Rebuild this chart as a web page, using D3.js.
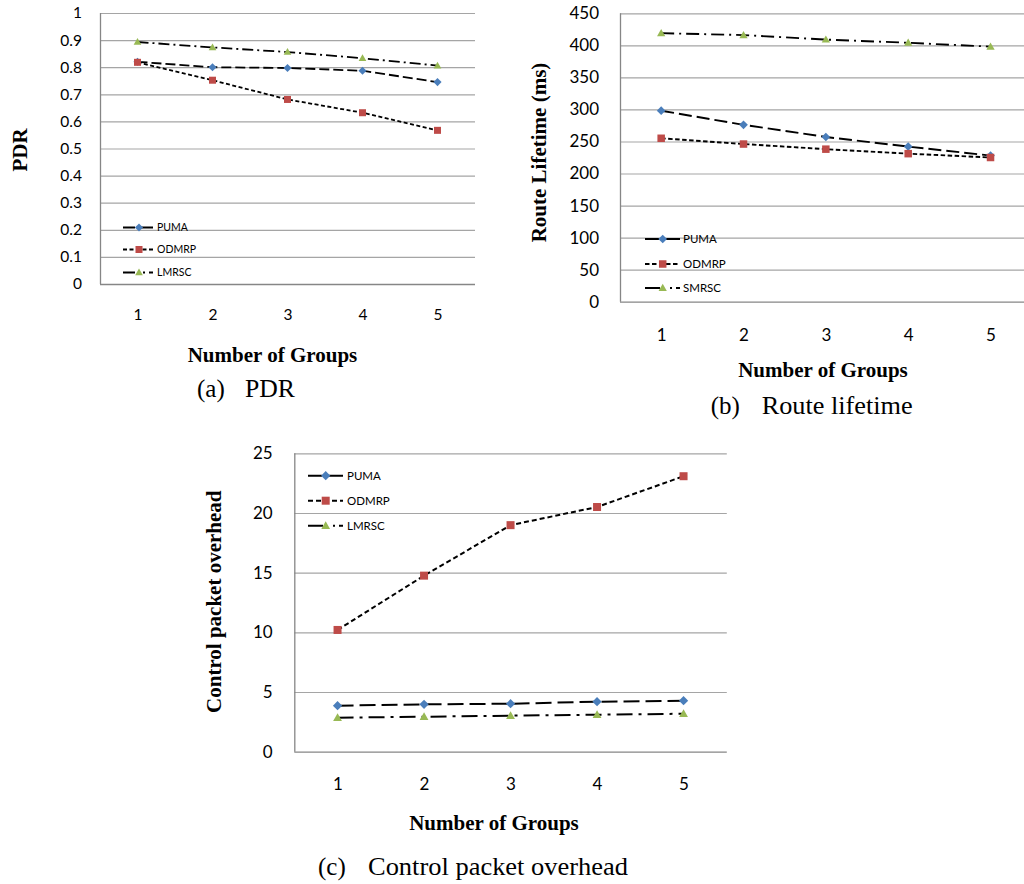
<!DOCTYPE html>
<html>
<head>
<meta charset="utf-8">
<script src="https://cdn.jsdelivr.net/npm/d3@7"></script>
<style>
  html, body { margin: 0; padding: 0; background: #fff; }
  svg { display: block; }
  .tick-label { font-family: Lato, "Open Sans", sans-serif; fill: #000; }
  .serif { font-family: "Liberation Serif", "DejaVu Serif", serif; fill: #000; }
</style>
</head>
<body>
<svg id="chart" width="1024" height="884"></svg>
<script>
// ---------- data ----------
const groups = [1, 2, 3, 4, 5];
const seriesNames = ["PUMA", "ODMRP", "LMRSC"];
const seriesNamesB = ["PUMA", "ODMRP", "SMRSC"];

const pdrPUMA  = [0.820, 0.800, 0.797, 0.787, 0.745];
const pdrODMRP = [0.818, 0.752, 0.681, 0.632, 0.567];
const pdrLMRSC = [0.893, 0.873, 0.856, 0.833, 0.806];
const pdrTicks = [0, 0.1, 0.2, 0.3, 0.4, 0.5, 0.6, 0.7, 0.8, 0.9, 1];

const lifePUMA  = [298, 276, 257, 242, 228];
const lifeODMRP = [255, 246, 238, 231, 225];
const lifeSMRSC = [419, 416, 409, 404, 398];
const lifeTicks = [0, 50, 100, 150, 200, 250, 300, 350, 400, 450];

const ovhPUMA  = [3.86, 3.97, 4.02, 4.19, 4.27];
const ovhODMRP = [10.2, 14.75, 18.98, 20.5, 23.08];
const ovhLMRSC = [2.85, 2.93, 3.02, 3.10, 3.18];
const ovhTicks = [0, 5, 10, 15, 20, 25];

const xTitle = "Number of Groups";

// ---------- styles ----------
const colors = { PUMA: "#4a7ebb", ODMRP: "#be4b48", LMRSC: "#98b954", SMRSC: "#98b954" };
const markerType = { PUMA: "diamond", ODMRP: "square", LMRSC: "triangle", SMRSC: "triangle" };

const svg = d3.select("#chart");

function drawMarker(g, type, x, y, s, color) {
  if (type === "square") {
    g.append("rect").attr("x", x - s / 2).attr("y", y - s / 2).attr("width", s).attr("height", s).attr("fill", color);
  } else if (type === "diamond") {
    const r = s * 0.58;
    g.append("path").attr("d", `M${x},${y - r}L${x + r},${y}L${x},${y + r}L${x - r},${y}Z`).attr("fill", color);
  } else {
    const h = s * 0.9, w = s * 0.55;
    g.append("path").attr("d", `M${x},${y - h * 0.62}L${x + w},${y + h * 0.45}L${x - w},${y + h * 0.45}Z`).attr("fill", color);
  }
}

function panel(cfg) {
  const g = svg.append("g");
  const x = d3.scalePoint().domain(groups).range([cfg.x0, cfg.x1]).padding(0.5);
  const y = d3.scaleLinear().domain(cfg.domain).range([cfg.y0, cfg.y1]);

  // gridlines
  const grid = g.append("g").attr("transform", `translate(${cfg.x0},0)`)
    .call(d3.axisLeft(y).tickValues(cfg.ticks.filter(t => t > 0)).tickSize(-(cfg.x1 - cfg.x0)).tickFormat(""));
  grid.select(".domain").remove();
  grid.selectAll("line").attr("stroke", "#a5a5a5").attr("stroke-width", 1.2);

  // y tick labels
  const ya = g.append("g").attr("transform", `translate(${cfg.x0},0)`)
    .call(d3.axisLeft(y).tickValues(cfg.ticks).tickSize(0).tickPadding(cfg.yPad).tickFormat(cfg.fmt));
  ya.select(".domain").remove();
  ya.selectAll("text").attr("class", "tick-label").style("font-size", cfg.tickFont + "px").attr("font-family", null);

  // x tick labels
  const xa = g.append("g").attr("transform", `translate(0,${cfg.y0})`)
    .call(d3.axisBottom(x).tickSize(0).tickPadding(cfg.xPad));
  xa.select(".domain").remove();
  xa.selectAll("text").attr("class", "tick-label").style("font-size", cfg.tickFont + "px").attr("font-family", null).attr("dy", "0");

  // axis lines
  g.append("line").attr("x1", cfg.x0 + 0.5).attr("x2", cfg.x0 + 0.5).attr("y1", cfg.y1).attr("y2", cfg.y0)
    .attr("stroke", "#868686").attr("stroke-width", 1.3);
  g.append("line").attr("x1", cfg.x0).attr("x2", cfg.x1).attr("y1", cfg.y0 + 0.5).attr("y2", cfg.y0 + 0.5)
    .attr("stroke", "#868686").attr("stroke-width", 1.3);

  // series
  cfg.series.forEach(s => {
    const line = d3.line().x((d, i) => x(groups[i])).y(d => y(d));
    g.append("path").attr("d", line(s.values)).attr("fill", "none")
      .attr("stroke", "#000").attr("stroke-width", cfg.lw).attr("stroke-dasharray", s.dash);
    s.values.forEach((v, i) => drawMarker(g, markerType[s.name], x(groups[i]), y(v), cfg.ms, colors[s.name]));
  });

  // legend
  cfg.series.forEach((s, i) => {
    const ly = cfg.leg.y[i];
    g.append("line").attr("x1", cfg.leg.x0).attr("x2", cfg.leg.x1).attr("y1", ly).attr("y2", ly)
      .attr("stroke", "#000").attr("stroke-width", cfg.lw).attr("stroke-dasharray", s.legDash || s.dash);
    drawMarker(g, markerType[s.name], cfg.leg.xm, ly, cfg.ms, colors[s.name]);
    g.append("text").attr("class", "tick-label").attr("x", cfg.leg.xt).attr("y", ly).attr("dy", "0.35em")
      .style("font-size", cfg.leg.font + "px").text(s.name);
  });

  // y title
  g.append("text").attr("class", "serif")
    .attr("transform", `translate(${cfg.yt.x},${cfg.yt.y}) rotate(-90)`)
    .attr("text-anchor", "middle").style("font-size", "21px").style("font-weight", "bold").text(cfg.yTitle);

  // x title
  g.append("text").attr("class", "serif").attr("x", cfg.xt.x).attr("y", cfg.xt.y)
    .attr("text-anchor", "middle").style("font-size", "21px").style("font-weight", "bold").text(xTitle);

  // caption
  g.append("text").attr("class", "serif").attr("x", cfg.cap.x1).attr("y", cfg.cap.y)
    .style("font-size", "25px").text(cfg.cap.label);
  g.append("text").attr("class", "serif").attr("x", cfg.cap.x2).attr("y", cfg.cap.y)
    .attr("textLength", cfg.cap.len).attr("lengthAdjust", "spacingAndGlyphs")
    .style("font-size", "25px").text(cfg.cap.text);
}

const fmtPdr = d => (d === 0 ? "0" : d === 1 ? "1" : d3.format(".1f")(d));

panel({
  x0: 100, x1: 475, y0: 284, y1: 13, domain: [0, 1], ticks: pdrTicks, fmt: fmtPdr,
  tickFont: 15.5, yPad: 18, xPad: 36, lw: 1.8, ms: 7,
  series: [
    { name: "PUMA", values: pdrPUMA, dash: "10,4", legDash: "12,4,14" },
    { name: "ODMRP", values: pdrODMRP, dash: "4,2.5", legDash: "4,2.5" },
    { name: "LMRSC", values: pdrLMRSC, dash: "11,4,2,4", legDash: "12,8,2,4,6" }
  ],
  leg: { x0: 123, x1: 153, xm: 139, xt: 157, y: [227.5, 249.5, 272.5], font: 10.5 },
  yTitle: "PDR", yt: { x: 26.5, y: 150 },
  xt: { x: 272.5, y: 362 },
  cap: { x1: 197, x2: 245, y: 397, label: "(a)", text: "PDR", len: 50 }
});

panel({
  x0: 620, x1: 1031.7, y0: 301.7, y1: 13.3, domain: [0, 450], ticks: lifeTicks, fmt: d3.format("d"),
  tickFont: 17, yPad: 21, xPad: 39, lw: 1.9, ms: 7.5,
  series: [
    { name: "PUMA", values: lifePUMA, dash: "13,5", legDash: "14,6,16" },
    { name: "ODMRP", values: lifeODMRP, dash: "4.5,2.5", legDash: "4.5,2.5" },
    { name: "SMRSC", values: lifeSMRSC, dash: "13,5,2,5", legDash: "15,10,2,4,6" }
  ],
  leg: { x0: 645, x1: 680, xm: 662.7, xt: 683, y: [239, 264, 288], font: 11.5 },
  yTitle: "Route Lifetime (ms)", yt: { x: 546, y: 152.5 },
  xt: { x: 823, y: 377 },
  cap: { x1: 710.7, x2: 761.7, y: 414, label: "(b)", text: "Route lifetime", len: 151 }
});

panel({
  x0: 294.3, x1: 726.8, y0: 751.7, y1: 453.3, domain: [0, 25], ticks: ovhTicks, fmt: d3.format("d"),
  tickFont: 17, yPad: 21.6, xPad: 38.5, lw: 2, ms: 8,
  series: [
    { name: "PUMA", values: ovhPUMA, dash: "16,6", legDash: "14,6,16" },
    { name: "ODMRP", values: ovhODMRP, dash: "5,3", legDash: "5,3" },
    { name: "LMRSC", values: ovhLMRSC, dash: "16,6,3,6", legDash: "15,10,2,4,6" }
  ],
  leg: { x0: 308, x1: 343, xm: 325.7, xt: 347, y: [475.7, 500.7, 525.7], font: 11.5 },
  yTitle: "Control packet overhead", yt: { x: 220.5, y: 601.7 },
  xt: { x: 494, y: 830 },
  cap: { x1: 318, x2: 368, y: 875, label: "(c)", text: "Control packet overhead", len: 260 }
});
</script>
</body>
</html>
